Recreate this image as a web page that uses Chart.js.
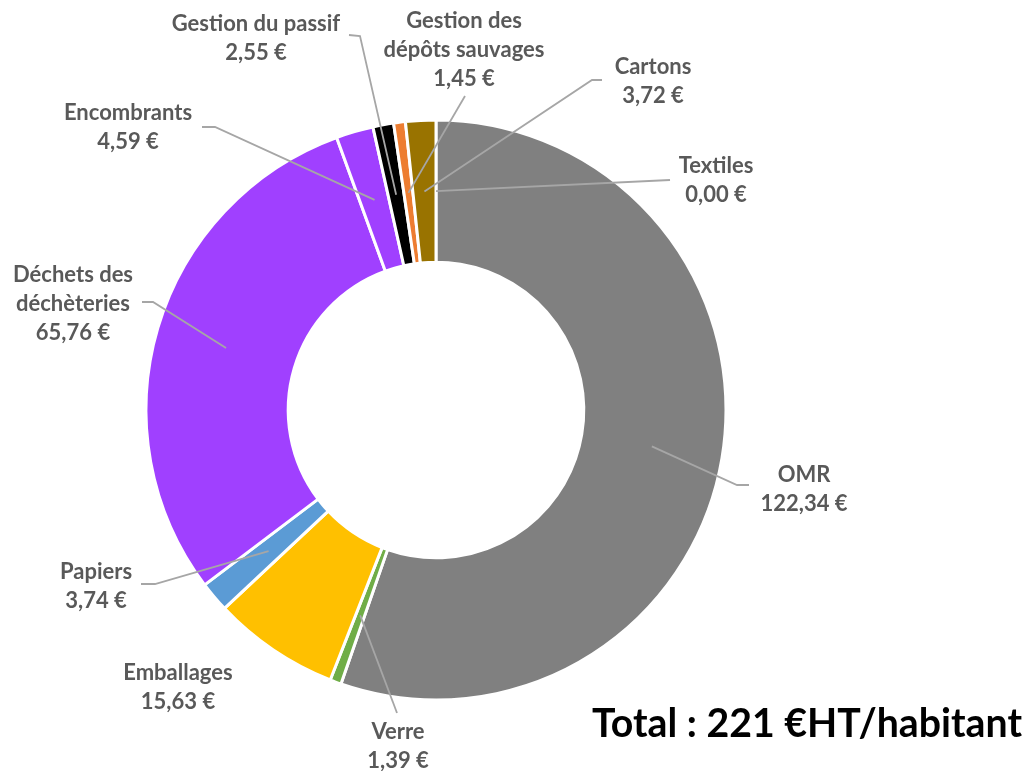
<!DOCTYPE html>
<html>
<head>
<meta charset="utf-8">
<script src="https://cdn.jsdelivr.net/npm/chart.js@4.4.1/dist/chart.umd.min.js"></script>
<style>
  html, body { margin: 0; padding: 0; background: #fff; }
  #wrap { width: 1026px; height: 771px; position: relative; }
</style>
</head>
<body>
<div id="wrap"><canvas id="costChart" width="1026" height="771"></canvas></div>
<script>
        // Chart data
        const categories = ['OMR', 'Verre', 'Emballages', 'Papiers', 'Déchets des\ndéchèteries', 'Encombrants',
            'Gestion du passif', 'Gestion des\ndépôts sauvages', 'Cartons', 'Textiles'];
        const costs = [122.34, 1.39, 15.63, 3.74, 65.76, 4.59, 2.55, 1.45, 3.72, 0.00];
        const sliceColors = ['#808080', '#70AD47', '#FFC000', '#5B9BD5', '#A040FF', '#A040FF',
            '#000000', '#ED7D31', '#997300', '#4472C4'];
        const totalText = 'Total : 221 €HT/habitant';

        // Label placement (text centre x, first baseline y) and leader line start
        const labelLayout = [
            { x: 804, y: 482, line: [[749, 485], [737, 485]] },
            { x: 398, y: 739, line: [[397, 713]] },
            { x: 178, y: 680, line: null },
            { x: 96, y: 579, line: [[141, 584], [155, 584]] },
            { x: 73, y: 282, line: [[142, 302], [153, 302]] },
            { x: 128, y: 120, line: [[202, 127], [215, 127]] },
            { x: 256, y: 31, line: [[349, 35], [360, 36]] },
            { x: 464, y: 28, line: [[465, 96]] },
            { x: 653, y: 74, line: [[602, 80], [592, 80]] },
            { x: 716, y: 173, line: [[670, 180]] }
        ];

        const fmt = v => v.toFixed(2).replace('.', ',') + ' €';

        const labelPlugin = {
            id: 'sliceLabels',
            afterDraw(chart) {
                const ctx = chart.ctx;
                const arcs = chart.getDatasetMeta(0).data;
                ctx.save();
                // leader lines
                ctx.strokeStyle = '#A6A6A6';
                ctx.lineWidth = 1.8;
                arcs.forEach((arc, i) => {
                    const lay = labelLayout[i];
                    if (!lay.line) return;
                    const mid = (arc.startAngle + arc.endAngle) / 2;
                    const r = (arc.innerRadius + arc.outerRadius) / 2;
                    const ex = arc.x + Math.cos(mid) * r;
                    const ey = arc.y + Math.sin(mid) * r;
                    ctx.beginPath();
                    ctx.moveTo(lay.line[0][0], lay.line[0][1]);
                    for (let k = 1; k < lay.line.length; k++) ctx.lineTo(lay.line[k][0], lay.line[k][1]);
                    ctx.lineTo(ex, ey);
                    ctx.stroke();
                });
                // texts
                ctx.fillStyle = '#595959';
                ctx.font = 'bold 22px Lato';
                ctx.textAlign = 'center';
                ctx.textBaseline = 'alphabetic';
                arcs.forEach((arc, i) => {
                    const lay = labelLayout[i];
                    const lines = categories[i].split('\n').concat([fmt(costs[i])]);
                    lines.forEach((t, k) => ctx.fillText(t, lay.x, lay.y + k * 29));
                });
                // total
                ctx.fillStyle = '#000';
                ctx.font = 'bold 40px Lato';
                ctx.textAlign = 'right';
                ctx.fillText(totalText, 1022, 737, 430);
                ctx.restore();
            }
        };

        const ctx = document.getElementById('costChart').getContext('2d');
        new Chart(ctx, {
            type: 'doughnut',
            data: {
                labels: categories,
                datasets: [{
                    data: costs,
                    backgroundColor: sliceColors,
                    borderColor: '#ffffff',
                    borderWidth: 3
                }]
            },
            options: {
                responsive: false,
                animation: false,
                radius: 290,
                cutout: 146,
                layout: { padding: { left: 148, right: 302, top: 122, bottom: 73 } },
                plugins: {
                    legend: { display: false },
                    tooltip: { enabled: false }
                }
            },
            plugins: [labelPlugin]
        });
</script>
</body>
</html>
